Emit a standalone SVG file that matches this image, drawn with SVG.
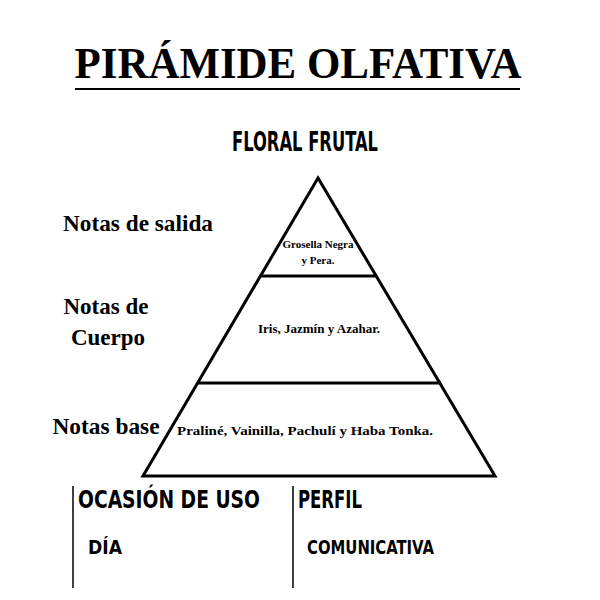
<svg xmlns="http://www.w3.org/2000/svg" width="600" height="600" viewBox="0 0 600 600">
<style>
.s{font-family:"Liberation Serif",serif;font-weight:bold;fill:#000}
.c{font-family:"DejaVu Sans Condensed","Liberation Sans",sans-serif;font-weight:bold;fill:#000}
.ln{stroke:#000;stroke-width:3;fill:none}
</style>
<rect width="600" height="600" fill="#fff"/>
<g id="title">
<text class="s" x="298" y="78" font-size="44" text-anchor="middle" textLength="447" lengthAdjust="spacingAndGlyphs">PIRÁMIDE OLFATIVA</text>
<line x1="75" y1="89" x2="520" y2="89" stroke="#000" stroke-width="2"/>
<text class="c" x="305" y="151" font-size="26" text-anchor="middle" textLength="146" lengthAdjust="spacingAndGlyphs">FLORAL FRUTAL</text>
</g>
<g id="pyramid">
<polygon class="ln" points="318,178 143,476 495,476"/>
<line class="ln" x1="260" y1="276" x2="377" y2="276"/>
<line class="ln" x1="198" y1="383" x2="441" y2="383"/>
<text class="s" x="318" y="248" font-size="11" text-anchor="middle">Grosella Negra</text>
<text class="s" x="318" y="264" font-size="11" text-anchor="middle">y Pera.</text>
<text class="s" x="319" y="333" font-size="13" text-anchor="middle">Iris, Jazmín y Azahar.</text>
<text class="s" x="305" y="435" font-size="13" text-anchor="middle" textLength="256" lengthAdjust="spacingAndGlyphs">Praliné, Vainilla, Pachulí y Haba Tonka.</text>
</g>
<g id="labels">
<text class="s" x="138" y="231" font-size="23" text-anchor="middle" textLength="150" lengthAdjust="spacingAndGlyphs">Notas de salida</text>
<text class="s" x="106" y="314" font-size="23" text-anchor="middle">Notas de</text>
<text class="s" x="108" y="345" font-size="23" text-anchor="middle">Cuerpo</text>
<text class="s" x="106" y="434" font-size="23" text-anchor="middle" textLength="107" lengthAdjust="spacingAndGlyphs">Notas base</text>
</g>
<g id="info">
<line x1="73" y1="486" x2="73" y2="588" stroke="#000" stroke-width="1.5"/>
<line x1="293" y1="486" x2="293" y2="588" stroke="#000" stroke-width="1.5"/>
<text class="c" x="78" y="508" font-size="24" textLength="182" lengthAdjust="spacingAndGlyphs">OCASIÓN DE USO</text>
<text class="c" x="298" y="508" font-size="24" textLength="64" lengthAdjust="spacingAndGlyphs">PERFIL</text>
<text class="c" x="88" y="554" font-size="20" textLength="34" lengthAdjust="spacingAndGlyphs">DÍA</text>
<text class="c" x="307" y="554" font-size="20" textLength="127" lengthAdjust="spacingAndGlyphs">COMUNICATIVA</text>
</g>
</svg>
